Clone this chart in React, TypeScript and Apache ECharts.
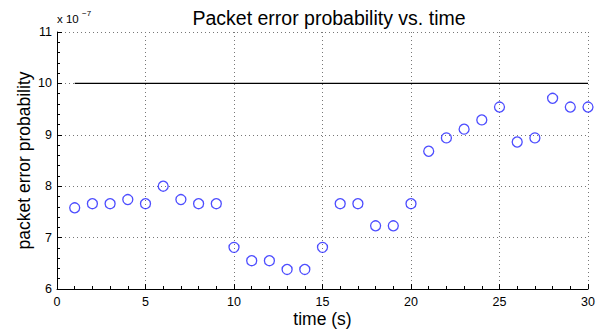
import React, { useEffect, useRef } from "react";
import * as echarts from "echarts";

const times = [1,2,3,4,5,6,7,8,9,10,11,12,13,14,15,16,17,18,19,20,21,22,23,24,25,26,27,28,29,30];
const probs = [7.58,7.66,7.66,7.74,7.66,8.0,7.74,7.66,7.66,6.81,6.55,6.55,6.38,6.38,6.81,7.66,7.66,7.23,7.23,7.66,8.68,8.94,9.11,9.29,9.54,8.86,8.94,9.71,9.54,9.54];
const thresholdX = [1, 30];
const thresholdY = [10, 10];

const FONT = "'Liberation Sans', Arial, Helvetica, sans-serif";

export default function App() {
  const ref = useRef<HTMLDivElement>(null);
  useEffect(() => {
    if (!ref.current) return;
    const chart = echarts.init(ref.current, null, { renderer: "svg" });
    const grid = "#777";
    chart.setOption({
      animation: false,
      backgroundColor: "#fff",
      textStyle: { fontFamily: FONT },
      title: {
        text: "Packet error probability vs. time",
        left: 324,
        textAlign: "center",
        top: 3,
        textStyle: { fontFamily: FONT, fontSize: 19.5, fontWeight: "normal", color: "#000" },
      },
      grid: { left: 57, right: 20, top: 32, bottom: 44, containLabel: false, outerBoundsMode: "none" },
      xAxis: {
        type: "value",
        min: 0,
        max: 30,
        interval: 5,
        name: "time (s)",
        nameLocation: "middle",
        nameGap: 21,
        nameMoveOverlap: false,
        nameTextStyle: { fontFamily: FONT, fontSize: 17.5, color: "#000" },
        axisLine: { show: true, onZero: false, lineStyle: { color: "#000", width: 1 } },
        axisTick: { show: true, inside: true, length: 5, lineStyle: { color: "#000" } },
        minorTick: { show: true, splitNumber: 5, length: 3, lineStyle: { color: "#000" } },
        axisLabel: { fontFamily: FONT, fontSize: 12.5, color: "#000", margin: 6 },
        splitLine: { show: true, lineStyle: { color: grid, type: [1, 3], width: 1 } },
      },
      yAxis: {
        type: "value",
        min: 6,
        max: 11,
        interval: 1,
        name: "packet error probability",
        nameLocation: "middle",
        nameGap: 24,
        nameMoveOverlap: false,
        nameTextStyle: { fontFamily: FONT, fontSize: 17.5, color: "#000" },
        axisLine: { show: true, onZero: false, lineStyle: { color: "#000", width: 1 } },
        axisTick: { show: true, inside: true, length: 5, lineStyle: { color: "#000" } },
        minorTick: { show: true, splitNumber: 5, length: 3, lineStyle: { color: "#000" } },
        axisLabel: { fontFamily: FONT, fontSize: 12.5, color: "#000", margin: 5 },
        splitLine: { show: true, lineStyle: { color: grid, type: [1, 3], width: 1 } },
      },
      graphic: [
        { type: "text", left: 57, top: 13, style: { text: "x 10", fontFamily: FONT, fontSize: 11.5, fill: "#000" } },
        { type: "text", left: 82, top: 9, style: { text: "−7", fontFamily: FONT, fontSize: 8, fill: "#000" } },
      ],
      series: [
        {
          type: "line",
          data: thresholdX.map((x, i) => [x, thresholdY[i]]),
          showSymbol: false,
          symbol: "none",
          lineStyle: { color: "#000", width: 1.2 },
          silent: true,
          z: 3,
        },
        {
          type: "scatter",
          data: times.map((t, i) => [t, probs[i]]),
          symbol: "circle",
          symbolSize: 10,
          itemStyle: { color: "rgba(0,0,0,0)", borderColor: "#2020ff", borderWidth: 1.3 },
          z: 4,
        },
      ],
    });
    return () => chart.dispose();
  }, []);
  return <div ref={ref} style={{ width: 608, height: 333, position: "absolute", left: 0, top: 0 }} />;
}
